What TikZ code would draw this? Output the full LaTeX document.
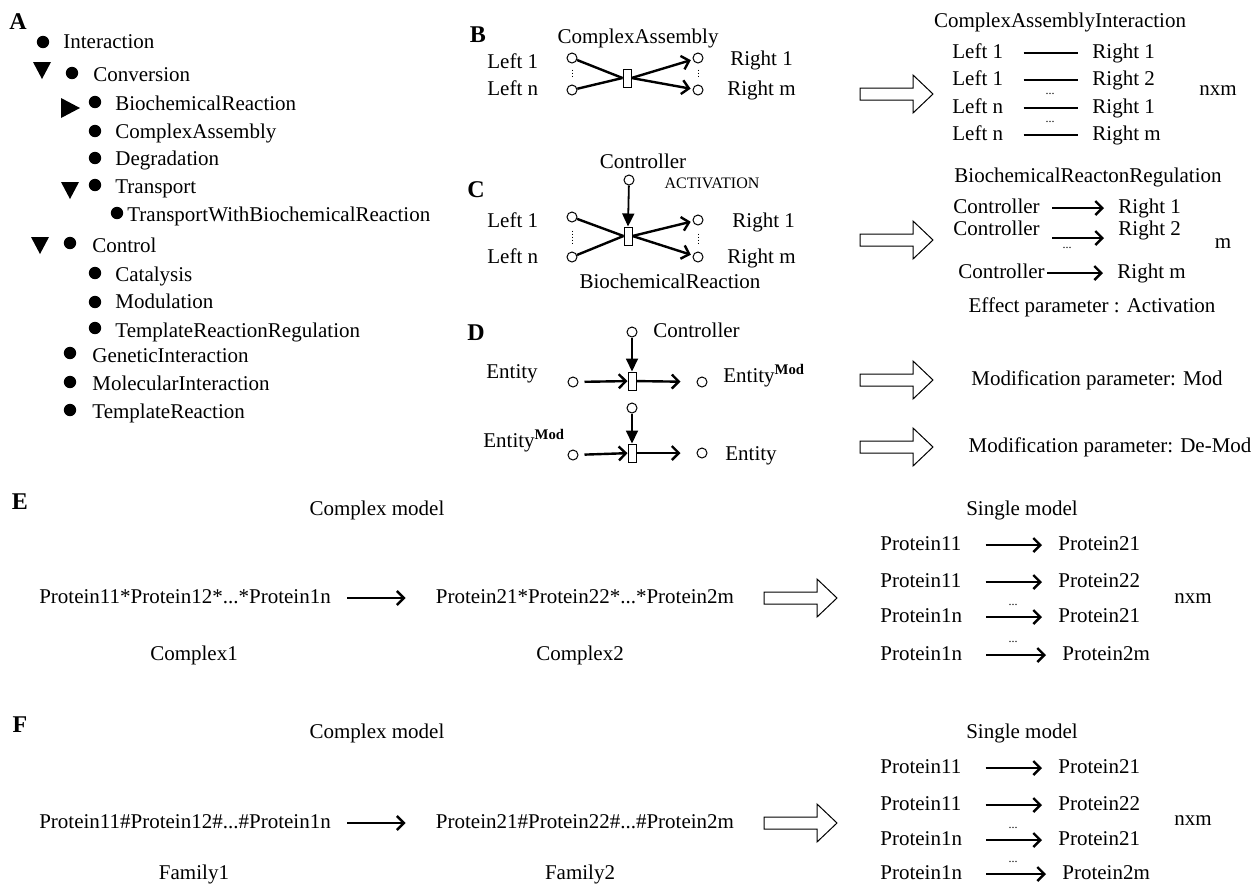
\documentclass[tikz,border=0pt]{standalone}
\usepackage{fontspec}
\setmainfont{Liberation Serif}
\usetikzlibrary{arrows.meta}

% grosse fleche creuse
\newcommand{\grosfleche}[2]{%
  \draw[line width=0.5pt] (#1,#2) ++(-36,-6) -- ++(53,0) -- ++(0,-13)
    -- ++(20,19) -- ++(-20,19) -- ++(0,-13) -- ++(-53,0) -- cycle;}

\tikzset{
  txt/.style={font=\fontsize{10.5}{12}\selectfont, inner sep=0pt,
    text height=7.2pt, text depth=2.2pt},
  petit/.style={font=\fontsize{6}{7}\selectfont, inner sep=0pt},
  lettre/.style={font=\bfseries\fontsize{12}{14}\selectfont, inner sep=0pt},
  puce/.style={circle, fill, inner sep=0pt, minimum size=6.2pt},
  site/.style={circle, draw, line width=0.5pt, inner sep=0pt, minimum size=5pt},
  boite/.style={draw, line width=0.5pt, inner sep=0pt, minimum width=4pt,
    minimum height=9pt},
  lien/.style={line width=1.2pt},
  reac/.style={line width=1.2pt, -{Straight Barb[length=3.5pt,width=7pt]}},
  ctrl/.style={line width=0.9pt, -{Triangle[length=6.5pt,width=6pt]}},
}

\begin{document}
\begin{tikzpicture}[x=0.5pt, y=-0.5pt]
  \useasboundingbox (0,0) rectangle (1255,885);

  % A : hierarchie
  \node[lettre] (A) at (18,22) {A};
  \foreach \bx/\by/\tx/\ty/\nom [count=\i] in {
      43/42/63/43/Interaction, 72/73/93/76/Conversion,
      95/102/115/105/BiochemicalReaction, 95/131/115/133/ComplexAssembly,
      95/158/115/160/Degradation, 95/185/115/188/Transport,
      117/213/127/216/TransportWithBiochemicalReaction, 70/243/92/247/Control,
      95/273/115/276/Catalysis, 95/302/115/303/Modulation,
      95/328/115/332/TemplateReactionRegulation, 70/353/92/357/GeneticInteraction,
      70/382/92/385/MolecularInteraction, 70/410/92/413/TemplateReaction} {
    \node[puce] (p\i) at (\bx,\by) {};
    \node[txt, anchor=west] (t\i) at (\tx,\ty) {\nom};
  }
  \foreach \x/\y in {42/70, 70/190, 40/245} {
    \fill (\x-9,\y-8) -- (\x+9,\y-8) -- (\x,\y+9) -- cycle;
  }
  \fill (61,98) -- (80,108) -- (61,118) -- cycle;

  % B : ComplexAssembly
  \node[lettre] (B) at (478,35) {B};
  \node[txt] (titB) at (638,38) {ComplexAssembly};
  \node[txt, anchor=west] (gB1) at (487,63) {Left 1};
  \node[txt, anchor=west] (gBn) at (487,90) {Left n};
  \node[site] (sB1) at (572,58) {};
  \node[site] (sBn) at (572,90) {};
  \node[boite] (bB) at (627,78) {};
  \node[site] (sB2) at (698,58) {};
  \node[site] (sBm) at (698,90) {};
  \node[txt, anchor=west] (dB1) at (730,60) {Right 1};
  \node[txt, anchor=west] (dBm) at (727,90) {Right m};
  \draw[densely dotted, line width=0.5pt, shorten <=3pt, shorten >=3pt] (sB1) -- (sBn);
  \draw[densely dotted, line width=0.5pt, shorten <=3pt, shorten >=3pt] (sB2) -- (sBm);
  \draw[lien] (sB1) -- (bB.west);
  \draw[lien] (sBn) -- (bB.west);
  \draw[reac, shorten >=1pt] (bB.east) -- (sB2);
  \draw[reac, shorten >=1pt] (bB.east) -- (sBm);

  % C : BiochemicalReaction
  \node[lettre] (C) at (476,190) {C};
  \node[txt] (ctC) at (643,163) {Controller};
  \node[txt, font=\fontsize{8}{9}\selectfont] (act) at (712,183) {ACTIVATION};
  \node[site] (cC) at (629,180) {};
  \node[txt, anchor=west] (gC1) at (487,222) {Left 1};
  \node[txt, anchor=west] (gCn) at (487,258) {Left n};
  \node[site] (sC1) at (572,217) {};
  \node[site] (sCn) at (572,257) {};
  \node[boite] (bC) at (628,236) {};
  \node[site] (sC2) at (698,220) {};
  \node[site] (sCm) at (698,257) {};
  \node[txt, anchor=west] (dC1) at (732,222) {Right 1};
  \node[txt, anchor=west] (dCm) at (727,258) {Right m};
  \node[txt] (titC) at (670,283) {BiochemicalReaction};
  \draw[densely dotted, line width=0.5pt, shorten <=4pt, shorten >=4pt] (sC1) -- (sCn);
  \draw[densely dotted, line width=0.5pt, shorten <=4pt, shorten >=4pt] (sC2) -- (sCm);
  \draw[lien] (sC1) -- (bC.west);
  \draw[lien] (sCn) -- (bC.west);
  \draw[reac, shorten >=1pt] (bC.east) -- (sC2);
  \draw[reac, shorten >=1pt] (bC.east) -- (sCm);
  \draw[ctrl] (cC) -- (bC.north);

  % D : modification
  \node[lettre] (D) at (476,333) {D};
  \node[site] (cD1) at (632,332) {};
  \node[txt, anchor=west] (ctD) at (653,332) {Controller};
  \node[txt] (eD1) at (512,373) {Entity};
  \node[site] (gD1) at (573,382) {};
  \node[boite] (bD1) at (632,381) {};
  \node[site] (dD1) at (702,382) {};
  \node[txt, anchor=west] (mD1) at (723,377) {Entity\textsuperscript{\bfseries Mod}};
  \draw[reac, shorten <=3pt] (gD1) -- (bD1);
  \draw[reac, shorten >=8pt] (bD1) -- (dD1);
  \draw[ctrl] (cD1) -- (bD1);
  \node[site] (cD2) at (632,408) {};
  \node[txt, anchor=west] (eD2) at (483,442) {Entity\textsuperscript{\bfseries Mod}};
  \node[site] (gD2) at (573,455) {};
  \node[boite] (bD2) at (632,453) {};
  \node[site] (dD2) at (702,453) {};
  \node[txt, anchor=west] (mD2) at (725,455) {Entity};
  \draw[reac, shorten <=3pt] (gD2) -- (bD2);
  \draw[reac, shorten >=8pt] (bD2) -- (dD2);
  \draw[ctrl] (cD2) -- (bD2);

  % Fleches creuses
  \grosfleche{896}{94}
  \grosfleche{896}{240}
  \grosfleche{896}{380}
  \grosfleche{896}{447}
  \grosfleche{800}{598}
  \grosfleche{800}{823}

  % B : resultat
  \node[txt] (titBB) at (1060,22) {ComplexAssemblyInteraction};
  \foreach \y/\g/\d [count=\i] in {53/Left 1/Right 1, 80/Left 1/Right 2,
      108/Left n/Right 1, 135/Left n/Right m} {
    \node[txt, anchor=west] (gBB\i) at (952,\y) {\g};
    \node[txt, anchor=west] (dBB\i) at (1092,\y) {\d};
    \draw[lien, shorten <=10pt, shorten >=7pt] (gBB\i) -- (dBB\i);
  }
  \node[petit] (ptB1) at (1050,94) {...};
  \node[petit] (ptB2) at (1050,122) {...};
  \node[txt] (nxmB) at (1218,90) {nxm};

  % C : resultat
  \node[txt] (titCC) at (1088,177) {BiochemicalReactonRegulation};
  \node[txt, anchor=west] (kC1) at (953,208) {Controller};
  \node[txt, anchor=west] (rC1) at (1118,208) {Right 1};
  \node[txt, anchor=west] (kC2) at (953,230) {Controller};
  \node[txt, anchor=west] (rC2) at (1118,230) {Right 2};
  \node[txt, anchor=west] (kC3) at (958,273) {Controller};
  \node[txt, anchor=west] (rC3) at (1117,273) {Right m};
  \draw[reac, shorten <=6pt, shorten >=7pt] (kC1) -- (rC1);
  \draw[reac, shorten <=6pt, shorten >=7pt] ([yshift=-4pt]kC2.east) -- ([yshift=-4pt]rC2.west);
  \draw[reac, shorten <=1pt, shorten >=7pt] (kC3) -- (rC3);
  \node[petit] (ptC) at (1067,248) {...};
  \node[txt] (mC) at (1223,243) {m};
  \node[txt] (effC) at (1092,307) {Effect parameter : Activation};

  % D : resultat
  \node[txt] (modD1) at (1097,380) {Modification parameter: Mod};
  \node[txt] (modD2) at (1110,447) {Modification parameter: De-Mod};

  % E : complexes
  \node[lettre] (E) at (20,502) {E};
  \node[txt] (cmE) at (377,510) {Complex model};
  \node[txt] (c1E) at (185,598) {Protein11*Protein12*...*Protein1n};
  \node[txt] (c2E) at (585,598) {Protein21*Protein22*...*Protein2m};
  \draw[reac, shorten <=8pt, shorten >=15pt] (c1E) -- (c2E);
  \node[txt] (k1E) at (194,655) {Complex1};
  \node[txt] (k2E) at (580,655) {Complex2};
  \node[txt] (smE) at (1022,510) {Single model};
  \foreach \y/\g/\d/\xd [count=\i] in {545/Protein11/Protein21/1058,
      582/Protein11/Protein22/1058, 617/Protein1n/Protein21/1058,
      655/Protein1n/Protein2m/1062} {
    \node[txt, anchor=west] (gE\i) at (880,\y) {\g};
    \node[txt, anchor=west] (dE\i) at (\xd,\y) {\d};
    \draw[reac, shorten <=12pt, shorten >=8pt] (gE\i) -- (dE\i);
  }
  \node[petit] (ptE1) at (1013,605) {...};
  \node[petit] (ptE2) at (1013,642) {...};
  \node[txt] (nxmE) at (1193,598) {nxm};

  % F : familles
  \node[lettre] (F) at (20,725) {F};
  \node[txt] (cmF) at (377,733) {Complex model};
  \node[txt] (c1F) at (185,823) {Protein11\#Protein12\#...\#Protein1n};
  \node[txt] (c2F) at (585,823) {Protein21\#Protein22\#...\#Protein2m};
  \draw[reac, shorten <=8pt, shorten >=15pt] (c1F) -- (c2F);
  \node[txt] (k1F) at (194,874) {Family1};
  \node[txt] (k2F) at (580,874) {Family2};
  \node[txt] (smF) at (1022,733) {Single model};
  \foreach \y/\g/\d/\xd [count=\i] in {768/Protein11/Protein21/1058,
      805/Protein11/Protein22/1058, 840/Protein1n/Protein21/1058,
      874/Protein1n/Protein2m/1062} {
    \node[txt, anchor=west] (gF\i) at (880,\y) {\g};
    \node[txt, anchor=west] (dF\i) at (\xd,\y) {\d};
    \draw[reac, shorten <=12pt, shorten >=8pt] (gF\i) -- (dF\i);
  }
  \node[petit] (ptF1) at (1013,828) {...};
  \node[petit] (ptF2) at (1013,862) {...};
  \node[txt] (nxmF) at (1193,820) {nxm};
\end{tikzpicture}
\end{document}
